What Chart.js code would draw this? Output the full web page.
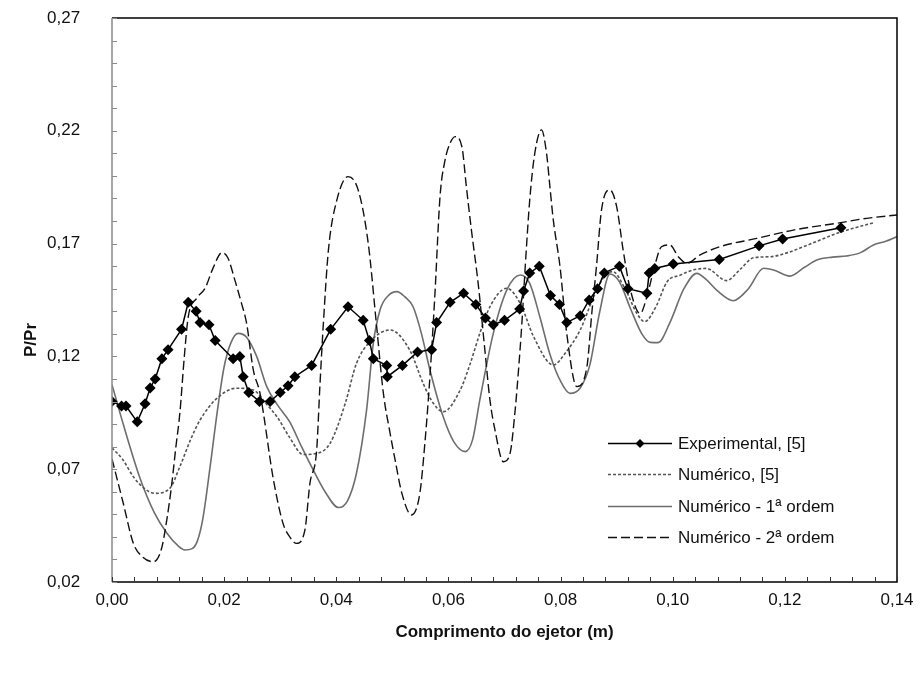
<!DOCTYPE html>
<html>
<head>
<meta charset="utf-8">
<title>P/Pr ao longo do ejetor</title>
<script src="https://cdn.jsdelivr.net/npm/chart.js@4.4.1/dist/chart.umd.min.js"></script>
<style>
  html, body { margin: 0; padding: 0; background: #fff; }
  #wrap { width: 922px; height: 681px; }
</style>
</head>
<body>
<div id="wrap"><canvas id="ejetor-chart" width="922" height="681"></canvas></div>
<script>
// Experimental, [5]
var expX = [0.0000,0.0017,0.0025,0.0045,0.0059,0.0068,0.0077,0.0089,0.0100,0.0124,0.0136,0.0150,0.0157,0.0173,0.0184,0.0216,0.0228,0.0234,0.0244,0.0263,0.0282,0.0300,0.0314,0.0326,0.0356,0.0390,0.0421,0.0448,0.0459,0.0466,0.0490,0.0491,0.0518,0.0545,0.0570,0.0579,0.0603,0.0627,0.0649,0.0666,0.0680,0.0700,0.0727,0.0734,0.0745,0.0762,0.0782,0.0798,0.0811,0.0835,0.0851,0.0866,0.0878,0.0905,0.0920,0.0954,0.0958,0.0968,0.1001,0.1083,0.1154,0.1196,0.1300];
var expY = [0.100,0.098,0.098,0.091,0.099,0.106,0.110,0.119,0.123,0.132,0.144,0.140,0.135,0.134,0.127,0.119,0.120,0.111,0.104,0.100,0.100,0.104,0.107,0.111,0.116,0.132,0.142,0.136,0.127,0.119,0.116,0.111,0.116,0.122,0.123,0.135,0.144,0.148,0.143,0.137,0.134,0.136,0.141,0.149,0.157,0.160,0.147,0.143,0.135,0.138,0.145,0.150,0.157,0.160,0.150,0.148,0.157,0.159,0.161,0.163,0.169,0.172,0.177];

// Numérico, [5]
var num5X = [0.0000,0.0020,0.0038,0.0060,0.0077,0.0103,0.0121,0.0140,0.0157,0.0187,0.0222,0.0252,0.0275,0.0295,0.0317,0.0341,0.0365,0.0389,0.0416,0.0436,0.0460,0.0496,0.0531,0.0555,0.0573,0.0591,0.0621,0.0639,0.0656,0.0674,0.0704,0.0728,0.0752,0.0787,0.0810,0.0835,0.0860,0.0880,0.0893,0.0915,0.0936,0.0950,0.0970,0.0990,0.1013,0.1036,0.1060,0.1096,0.1120,0.1144,0.1175,0.1205,0.1233,0.1262,0.1292,0.1325,0.1360];
var num5Y = [0.0795,0.0740,0.0667,0.0610,0.0593,0.0615,0.0711,0.0830,0.0918,0.1014,0.1059,0.1051,0.0990,0.0930,0.0840,0.0765,0.0770,0.0815,0.0992,0.1169,0.1265,0.1317,0.1228,0.1080,0.0992,0.0955,0.1051,0.1169,0.1302,0.1420,0.1502,0.1435,0.1287,0.1162,0.1220,0.1317,0.1470,0.1560,0.1576,0.1500,0.1391,0.1354,0.1420,0.1531,0.1560,0.1583,0.1590,0.1536,0.1585,0.1637,0.1642,0.1660,0.1686,0.1715,0.1745,0.1770,0.1793];

// Numérico - 1ª ordem
var ord1X = [0.0000,0.0020,0.0050,0.0075,0.0098,0.0118,0.0130,0.0143,0.0152,0.0162,0.0175,0.0188,0.0200,0.0212,0.0225,0.0240,0.0258,0.0276,0.0295,0.0317,0.0338,0.0359,0.0380,0.0404,0.0420,0.0436,0.0454,0.0466,0.0478,0.0493,0.0508,0.0522,0.0537,0.0552,0.0567,0.0591,0.0610,0.0630,0.0643,0.0656,0.0680,0.0704,0.0728,0.0745,0.0763,0.0781,0.0800,0.0817,0.0835,0.0852,0.0870,0.0888,0.0905,0.0925,0.0945,0.0960,0.0974,0.0995,0.1020,0.1043,0.1060,0.1080,0.1108,0.1135,0.1162,0.1180,0.1209,0.1235,0.1257,0.1285,0.1310,0.1335,0.1358,0.1380,0.1400];
var ord1Y = [0.1075,0.0900,0.0660,0.0510,0.0416,0.0360,0.0342,0.0348,0.0380,0.0480,0.0711,0.0960,0.1154,0.1260,0.1302,0.1285,0.1200,0.1066,0.0985,0.0910,0.0800,0.0696,0.0600,0.0530,0.0560,0.0682,0.0962,0.1258,0.1406,0.1470,0.1487,0.1465,0.1420,0.1300,0.1140,0.0930,0.0820,0.0778,0.0830,0.1007,0.1302,0.1494,0.1561,0.1524,0.1376,0.1210,0.1090,0.1036,0.1060,0.1160,0.1400,0.1565,0.1530,0.1410,0.1300,0.1262,0.1261,0.1350,0.1500,0.1568,0.1540,0.1490,0.1447,0.1500,0.1591,0.1583,0.1556,0.1595,0.1627,0.1640,0.1645,0.1660,0.1694,0.1710,0.1731];

// Numérico - 2ª ordem
var ord2X = [0.0000,0.0020,0.0038,0.0055,0.0074,0.0088,0.0098,0.0106,0.0114,0.0121,0.0129,0.0136,0.0151,0.0166,0.0180,0.0196,0.0207,0.0219,0.0231,0.0240,0.0252,0.0264,0.0288,0.0305,0.0317,0.0329,0.0344,0.0353,0.0365,0.0371,0.0377,0.0386,0.0401,0.0421,0.0439,0.0457,0.0472,0.0484,0.0496,0.0505,0.0517,0.0534,0.0549,0.0558,0.0567,0.0576,0.0585,0.0594,0.0603,0.0612,0.0624,0.0632,0.0641,0.0653,0.0665,0.0674,0.0683,0.0698,0.0710,0.0719,0.0725,0.0731,0.0737,0.0745,0.0754,0.0766,0.0775,0.0781,0.0787,0.0799,0.0811,0.0829,0.0847,0.0856,0.0864,0.0873,0.0888,0.0900,0.0912,0.0924,0.0942,0.0954,0.0966,0.0980,0.0995,0.1010,0.1025,0.1049,0.1084,0.1150,0.1215,0.1292,0.1346,0.1400];
var ord2Y = [0.0745,0.0550,0.0372,0.0310,0.0290,0.0345,0.0480,0.0622,0.0800,0.0948,0.1200,0.1376,0.1458,0.1502,0.1590,0.1660,0.1635,0.1539,0.1435,0.1347,0.1140,0.1036,0.0652,0.0460,0.0400,0.0371,0.0430,0.0637,0.0785,0.1080,0.1347,0.1672,0.1893,0.1997,0.1938,0.1701,0.1332,0.1036,0.0859,0.0740,0.0593,0.0497,0.0593,0.0815,0.1110,0.1480,0.1908,0.2070,0.2145,0.2174,0.2130,0.1952,0.1760,0.1524,0.1228,0.1007,0.0874,0.0733,0.0771,0.0962,0.1140,0.1347,0.1598,0.1893,0.2100,0.2204,0.2100,0.1952,0.1805,0.1598,0.1302,0.1066,0.1154,0.1400,0.1598,0.1849,0.1938,0.1864,0.1665,0.1500,0.1390,0.1465,0.1583,0.1686,0.1694,0.1642,0.1613,0.1650,0.1686,0.1723,0.1760,0.1790,0.1812,0.1827];

var xTickValues = [0, 0.02, 0.04, 0.06, 0.08, 0.10, 0.12, 0.14];
var yTickValues = [0.02, 0.07, 0.12, 0.17, 0.22, 0.27];
var xMinorStep = 0.004;
var yMinorStep = 0.01;

var seriesNames = ['Experimental, [5]', 'Numérico, [5]', 'Numérico - 1ª ordem', 'Numérico - 2ª ordem'];
var xTitle = 'Comprimento do ejetor (m)';
var yTitle = 'P/Pr';

var FONT = "'Liberation Sans', Arial, sans-serif";

function toPoints(xs, ys) {
    var pts = [];
    for (var i = 0; i < xs.length; i++) {
        pts.push({ x: xs[i], y: ys[i] });
    }
    return pts;
}

function comma(v) {
    return Number(v).toFixed(2).replace('.', ',');
}

var datasets = [
    {
        label: seriesNames[0],
        data: toPoints(expX, expY),
        borderColor: '#000',
        backgroundColor: '#000',
        borderWidth: 1.5,
        pointStyle: 'rectRot',
        pointRadius: 5.5,
        pointBorderWidth: 0,
        tension: 0,
        order: 0
    },
    {
        label: seriesNames[1],
        data: toPoints(num5X, num5Y),
        borderColor: '#555',
        borderWidth: 1.6,
        borderDash: [3, 2],
        pointRadius: 0,
        cubicInterpolationMode: 'monotone',
        order: 2
    },
    {
        label: seriesNames[2],
        data: toPoints(ord1X, ord1Y),
        borderColor: '#6e6e6e',
        borderWidth: 1.6,
        pointRadius: 0,
        cubicInterpolationMode: 'monotone',
        order: 3
    },
    {
        label: seriesNames[3],
        data: toPoints(ord2X, ord2Y),
        borderColor: '#111',
        borderWidth: 1.4,
        borderDash: [9, 4],
        pointRadius: 0,
        cubicInterpolationMode: 'monotone',
        order: 1
    }
];

// frame, inside tick marks, axis titles and the legend box
var decorations = {
    id: 'decorations',
    afterDraw: function(chart) {
        var ctx = chart.ctx;
        var a = chart.chartArea;
        var xs = chart.scales.x;
        var ys = chart.scales.y;
        var i, p;

        ctx.save();
        ctx.lineWidth = 1.5;
        ctx.strokeStyle = '#000';
        ctx.beginPath();
        ctx.moveTo(a.left, a.bottom);
        ctx.lineTo(a.right, a.bottom);
        ctx.lineTo(a.right, a.top);
        ctx.lineTo(a.left, a.top);
        ctx.stroke();
        ctx.strokeStyle = '#8a8a8a';
        ctx.beginPath();
        ctx.moveTo(a.left, a.top);
        ctx.lineTo(a.left, a.bottom);
        ctx.stroke();

        ctx.lineWidth = 1;
        ctx.strokeStyle = '#333';
        ctx.beginPath();
        for (i = 0; i <= Math.round(0.14 / xMinorStep); i++) {
            p = Math.round(xs.getPixelForValue(i * xMinorStep)) + 0.5;
            ctx.moveTo(p, a.bottom);
            ctx.lineTo(p, a.bottom - 5);
        }
        ctx.stroke();
        ctx.strokeStyle = '#8a8a8a';
        ctx.beginPath();
        for (i = 0; i <= Math.round(0.25 / yMinorStep); i++) {
            p = Math.round(ys.getPixelForValue(0.02 + i * yMinorStep)) + 0.5;
            ctx.moveTo(a.left, p);
            ctx.lineTo(a.left + 5, p);
        }
        ctx.stroke();

        ctx.fillStyle = '#111';
        ctx.font = 'bold 17px ' + FONT;
        ctx.textAlign = 'center';
        ctx.textBaseline = 'middle';
        ctx.fillText(xTitle, (a.left + a.right) / 2, 632);
        ctx.save();
        ctx.translate(31, 340);
        ctx.rotate(-Math.PI / 2);
        ctx.fillText(yTitle, 0, 0);
        ctx.restore();

        var rows = [443, 474, 506, 537];
        var x0 = 608, x1 = 672;
        ctx.font = '17px ' + FONT;
        ctx.textAlign = 'left';
        for (i = 0; i < chart.data.datasets.length; i++) {
            var ds = chart.data.datasets[i];
            var y = rows[i] + 0.5;
            ctx.save();
            ctx.strokeStyle = ds.borderColor;
            ctx.lineWidth = ds.borderWidth;
            ctx.setLineDash(ds.borderDash || []);
            ctx.beginPath();
            ctx.moveTo(x0, y);
            ctx.lineTo(x1, y);
            ctx.stroke();
            ctx.restore();
            if (ds.pointStyle === 'rectRot') {
                ctx.fillStyle = '#000';
                ctx.beginPath();
                ctx.moveTo(640, y - 4.5);
                ctx.lineTo(644.5, y);
                ctx.lineTo(640, y + 4.5);
                ctx.lineTo(635.5, y);
                ctx.closePath();
                ctx.fill();
            }
            ctx.fillStyle = '#111';
            ctx.fillText(ds.label, 678, rows[i] + 1);
        }
        ctx.restore();
    }
};

new Chart(document.getElementById('ejetor-chart'), {
    type: 'line',
    data: { datasets: datasets },
    plugins: [decorations],
    options: {
        responsive: false,
        animation: false,
        layout: { padding: { left: 47, right: 25, top: 18, bottom: 0 } },
        plugins: {
            legend: { display: false },
            tooltip: { enabled: false }
        },
        scales: {
            x: {
                type: 'linear',
                min: 0,
                max: 0.14,
                grid: { display: false, drawTicks: false },
                border: { display: false },
                afterBuildTicks: function(scale) {
                    scale.ticks = xTickValues.map(function(v) { return { value: v }; });
                },
                afterFit: function(scale) { scale.height = 99; },
                ticks: {
                    autoSkip: false,
                    maxRotation: 0,
                    padding: 8,
                    color: '#111',
                    font: { family: FONT, size: 17 },
                    callback: function(v) { return comma(v); }
                }
            },
            y: {
                type: 'linear',
                min: 0.02,
                max: 0.27,
                grid: { display: false, drawTicks: false },
                border: { display: false },
                afterBuildTicks: function(scale) {
                    scale.ticks = yTickValues.map(function(v) { return { value: v }; });
                },
                afterFit: function(scale) { scale.width = 65; },
                ticks: {
                    autoSkip: false,
                    crossAlign: 'far',
                    padding: 0,
                    color: '#111',
                    font: { family: FONT, size: 17 },
                    callback: function(v) { return comma(v); }
                }
            }
        }
    }
});
</script>
</body>
</html>
